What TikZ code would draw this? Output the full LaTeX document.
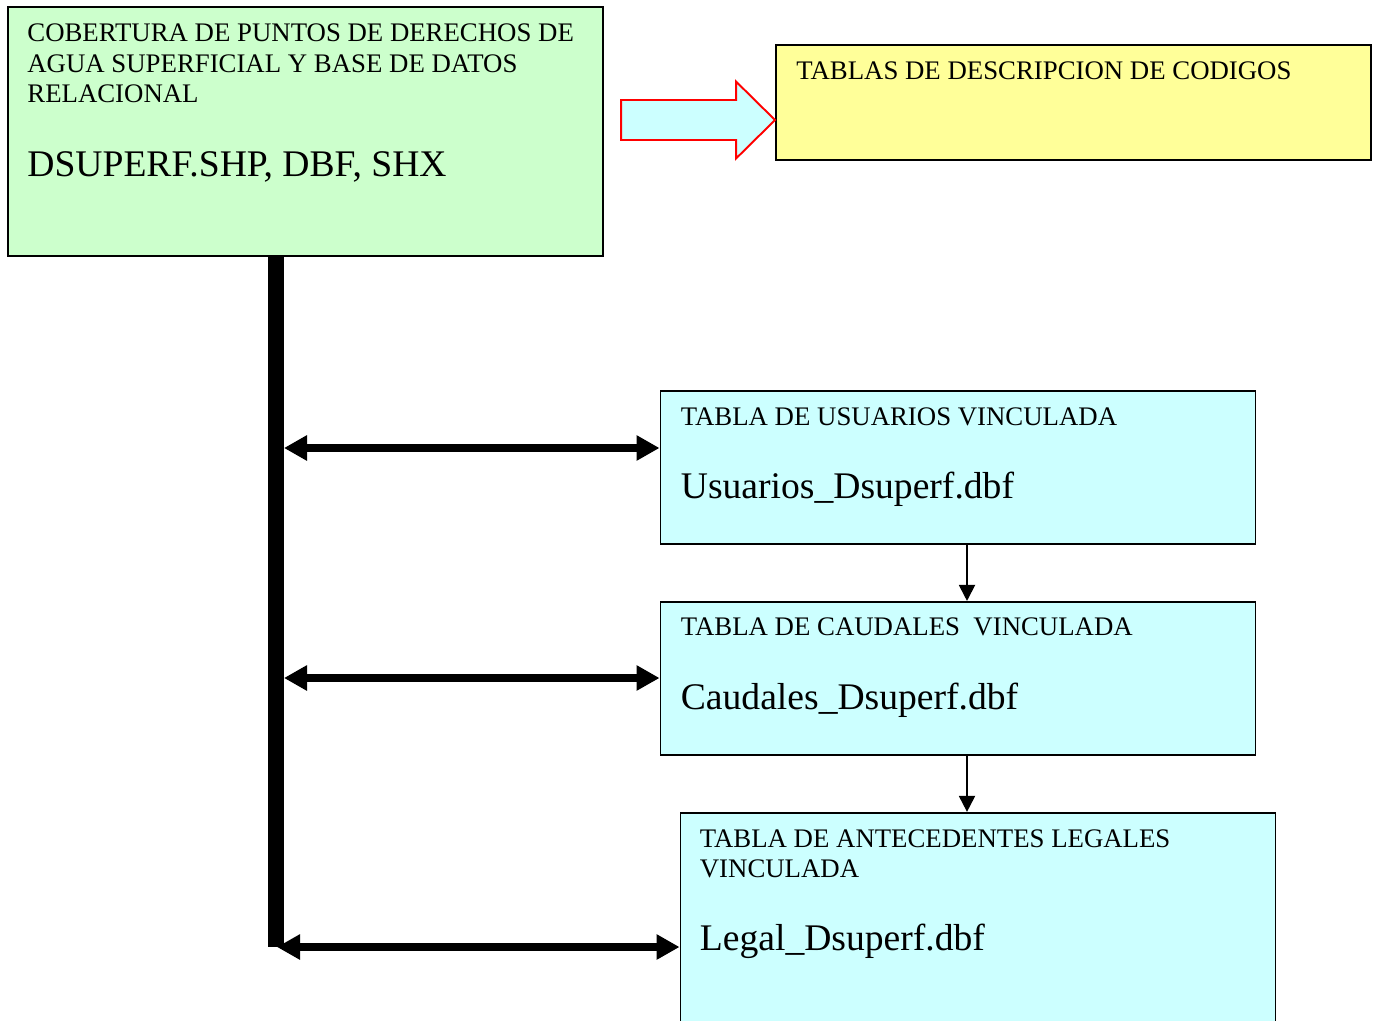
\documentclass[tikz,border=0pt]{standalone}
\usepackage{fontspec}
\setmainfont{Liberation Serif}
\usepackage{tikz}
\usetikzlibrary{arrows.meta, positioning, calc}
\definecolor{covgreen}{HTML}{CCFFCC}
\definecolor{codeyellow}{HTML}{FFFF99}
\definecolor{tablecyan}{HTML}{CCFFFF}

\begin{document}
\begin{tikzpicture}[
    box/.style={rectangle, draw=black, line width=1.1pt, minimum width=11.9cm, inner sep=0pt},
    smalltxt/.style={inner sep=0pt, align=left, text=black, font=\fontsize{15.25}{17.3}\selectfont},
    bigtxt/.style={inner sep=0pt, anchor=base west, text=black, font=\fontsize{21.4}{24}\selectfont},
    linkarrow/.style={line width=4pt, {Triangle[length=0.46cm,width=0.48cm]}-{Triangle[length=0.46cm,width=0.48cm]}},
    steparrow/.style={line width=1.1pt, -{Triangle[length=0.32cm,width=0.32cm]}},
    fatarrow/.style={draw=red, fill=tablecyan, line width=1.1pt, line join=miter}
  ]
    \useasboundingbox (0,0) rectangle (27.54,-20.42);%page size
    \node (cover) [box, fill=covgreen, minimum height=4.98cm] at (6.11,-2.63){};%draws coverage box
    \node (codes) [box, fill=codeyellow, minimum height=2.3cm] at (21.47,-2.05){};%draws codes box
    \node (usuarios) [box, fill=tablecyan, minimum height=3.06cm] at (19.16,-9.35){};%draws usuarios
    \node (caudales) [box, fill=tablecyan, minimum height=3.06cm, below=1.12cm of usuarios]{};%draws caudales
    \node (legal) [box, fill=tablecyan, minimum height=5cm, below=1.12cm of caudales, xshift=0.4cm]{};%draws legal
    % =============== texts ====================
    \node (covertitle) [smalltxt, anchor=north west] at ($(cover.north west)+(0.4,-0.35)$){COBERTURA DE PUNTOS DE DERECHOS DE\\AGUA SUPERFICIAL Y BASE DE DATOS\\RELACIONAL};
    \node (coverfile) [bigtxt] at ($(cover.north west)+(0.4,-3.4)$){DSUPERF.SHP, DBF, SHX};
    \node (codestitle) [smalltxt, anchor=base west] at ($(codes.north west)+(0.42,-0.7)$){TABLAS DE DESCRIPCION DE CODIGOS};
    \node (usrtitle) [smalltxt, anchor=base west] at ($(usuarios.north west)+(0.42,-0.7)$){TABLA DE USUARIOS VINCULADA};
    \node (usrfile) [bigtxt] at ($(usuarios.north west)+(0.42,-2.16)$){Usuarios\_Dsuperf.dbf};
    \node (caudtitle) [smalltxt, anchor=base west] at ($(caudales.north west)+(0.42,-0.7)$){TABLA DE CAUDALES\ \ VINCULADA};
    \node (caudfile) [bigtxt] at ($(caudales.north west)+(0.42,-2.18)$){Caudales\_Dsuperf.dbf};
    \node (legaltitle) [smalltxt, anchor=north west] at ($(legal.north west)+(0.4,-0.35)$){TABLA DE ANTECEDENTES LEGALES\\VINCULADA};
    \node (legalfile) [bigtxt] at ($(legal.north west)+(0.4,-2.78)$){Legal\_Dsuperf.dbf};
    % =============== connectors ====================
    \coordinate (tip) at ($(codes.north west)+(0,-1.52)$);%tip of red arrow
    \draw[fatarrow] (tip) -- ++(-0.78,0.77) -- ++(0,-0.37) -- ++(-2.3,0) -- ++(0,-0.8) -- ++(2.3,0) -- ++(0,-0.37) -- cycle;%red block arrow
    \coordinate (barbot) at (5.52,-18.94);%bottom of trunk
    \draw[line width=0.32cm] (cover.south -| barbot) -- (barbot);%thick trunk
    \coordinate (j1) at (5.68,-8.96);
    \coordinate (j2) at (5.68,-13.56);
    \coordinate (j3) at (5.54,-18.94);
    \draw[linkarrow] (j1) -- (j1 -| usuarios.west);%trunk to usuarios
    \draw[linkarrow] (j2) -- (j2 -| caudales.west);%trunk to caudales
    \draw[linkarrow] (j3) -- (j3 -| legal.west);%trunk to legal
    \draw[steparrow] ($(usuarios.south)+(0.18,0)$) -- ($(caudales.north)+(0.18,0)$);%usuarios to caudales
    \draw[steparrow] ($(caudales.south)+(0.18,0)$) -- ($(legal.north)+(-0.22,0)$);%caudales to legal
  \end{tikzpicture}
\end{document}
